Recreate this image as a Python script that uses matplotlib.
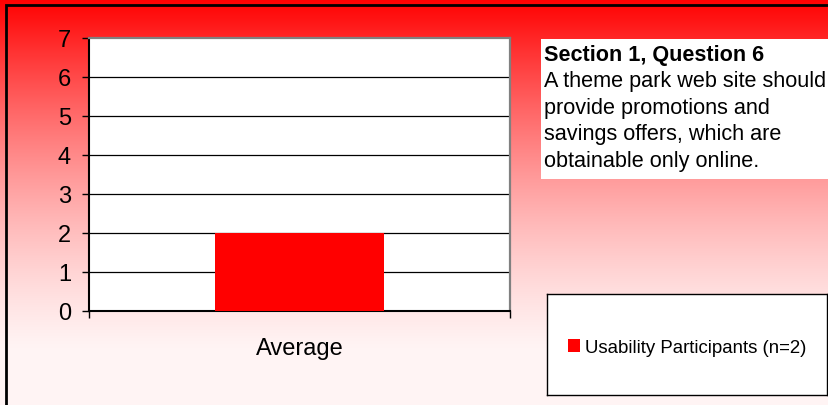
import numpy as np
import matplotlib
matplotlib.use("Agg")
import matplotlib.pyplot as plt
from matplotlib.patches import Rectangle

plt.rcParams['font.family'] = ['Liberation Sans', 'DejaVu Sans']

# chart data
categories = ['Average']
values = [2]
series_name = 'Usability Participants (n=2)'
title_line = 'Section 1, Question 6'
question_lines = ['A theme park web site should',
                  'provide promotions and',
                  'savings offers, which are',
                  'obtainable only online.']

W, H = 829, 406
fig = plt.figure(figsize=(W / 100, H / 100), dpi=100)

def px_box(x0, y0, x1, y1):
    # pixel box (top-left origin) -> figure fraction [l, b, w, h]
    return [x0 / W, 1 - y1 / H, (x1 - x0) / W, (y1 - y0) / H]

# red-to-white gradient background
bg = fig.add_axes([0, 0, 1, 1], zorder=-10)
t = np.linspace(0, 1, 400)[:, None]
f = 1 - (1 - t) ** 1.6
f = np.clip(f, 0, 0.96)
grad = np.dstack([np.ones_like(f), f, f])
bg.imshow(grad, aspect='auto', extent=[0, 1, 0, 1], origin='upper')
bg.set_xlim(0, 1)
bg.set_ylim(0, 1)
bg.axis('off')
# outer border (top/left visible)
bg.add_patch(Rectangle((6 / W, -0.1), 1.2, 1 - 5.5 / H + 0.1, transform=bg.transAxes,
                       fill=False, edgecolor='black', linewidth=2))

# plot area
ax = fig.add_axes(px_box(89, 39, 510, 312))
ax.set_facecolor('white')
x = np.arange(len(categories))
ax.bar(x, values, width=0.4, color='#ff0000', label=series_name, zorder=3)
ax.set_xlim(-0.5, 0.5)
ax.set_ylim(0, 7)
ax.set_yticks(range(0, 8))
for yv in range(1, 7):
    ax.axhline(yv, color='black', linewidth=0.9, zorder=1)
ax.tick_params(axis='y', direction='out', length=5, width=1, pad=8, labelsize=17)
ax.set_xticks(x)
ax.set_xticklabels(categories)
ax.tick_params(axis='x', which='major', length=0, pad=19, labelsize=17)
ax.set_xticks([-0.5, 0.5], minor=True)
ax.tick_params(axis='x', which='minor', direction='out', length=5, width=1)
for s in ('left', 'bottom'):
    ax.spines[s].set_color('black')
    ax.spines[s].set_linewidth(1.5)
for s in ('top', 'right'):
    ax.spines[s].set_color('#808080')
    ax.spines[s].set_linewidth(1.6)

# question text box
tb = fig.add_axes(px_box(541, 40, 828, 180), zorder=5)
tb.set_xlim(541, 828)
tb.set_ylim(180, 40)
tb.set_facecolor('white')
tb.set_xticks([])
tb.set_yticks([])
for s in tb.spines.values():
    s.set_visible(False)
tb.text(544, 60.7, title_line, fontsize=15.6, fontweight='bold', va='baseline')
for i, line in enumerate(question_lines):
    tb.text(544, 87 + 26.5 * i, line, fontsize=15.6, va='baseline')

# legend box
lb = fig.add_axes(px_box(547, 295, 827, 396), zorder=5)
lb.set_facecolor('white')
lb.set_xticks([])
lb.set_yticks([])
for s in lb.spines.values():
    s.set_color('black')
    s.set_linewidth(1)
handles, labels = ax.get_legend_handles_labels()
lb.legend(handles, labels, loc='center', bbox_to_anchor=(0.5, 0.47), frameon=False,
          fontsize=13.4, handlelength=0.65, handleheight=0.65, handletextpad=0.25)

fig.savefig('out.png', dpi=100)
